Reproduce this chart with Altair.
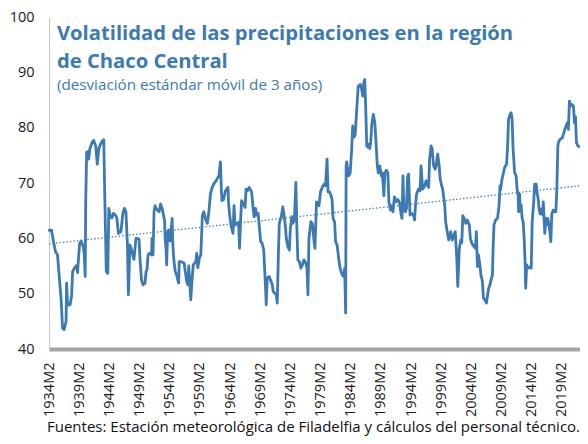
import altair as alt
import pandas as pd

# ---- data ----
periodos = [
    "1934-02", "1934-03", "1934-07", "1934-11", "1935-03", "1935-07", "1935-11", "1936-02", "1936-05", "1936-08",
    "1936-12", "1937-01", "1937-03", "1937-08", "1937-11", "1938-01", "1938-05", "1938-09", "1938-11", "1938-12",
    "1939-03", "1939-06", "1939-10", "1939-12", "1940-02", "1940-03", "1940-05", "1940-07", "1940-09", "1940-11",
    "1941-04", "1941-07", "1941-11", "1942-02", "1942-05", "1942-08", "1942-11", "1943-03", "1943-05", "1943-08",
    "1943-11", "1944-01", "1944-04", "1944-07", "1944-10", "1945-02", "1945-05", "1945-08", "1946-01", "1946-05",
    "1946-08", "1946-11", "1947-02", "1947-04", "1947-07", "1947-10", "1948-03", "1948-07", "1949-01", "1949-03",
    "1949-06", "1949-09", "1950-01", "1950-03", "1950-05", "1950-07", "1950-10", "1951-02", "1951-03", "1951-05",
    "1951-07", "1951-09", "1951-11", "1952-05", "1952-08", "1952-11", "1953-04", "1953-05", "1953-07", "1953-08",
    "1953-10", "1953-12", "1954-03", "1954-05", "1954-07", "1954-08", "1954-10", "1955-01", "1955-04", "1955-06",
    "1955-08", "1955-09", "1955-12", "1956-07", "1956-09", "1956-12", "1957-02", "1957-04", "1957-06", "1957-08",
    "1957-10", "1958-01", "1958-06", "1958-08", "1958-10", "1959-01", "1959-04", "1959-07", "1959-10", "1960-01",
    "1960-05", "1960-08", "1960-11", "1961-03", "1961-06", "1961-09", "1961-12", "1962-04", "1962-07", "1962-09",
    "1962-10", "1963-01", "1963-05", "1963-10", "1963-11", "1964-01", "1964-04", "1964-08", "1964-10", "1964-12",
    "1965-07", "1965-09", "1965-11", "1966-01", "1966-05", "1966-08", "1966-10", "1967-01", "1967-04", "1967-09",
    "1967-12", "1968-02", "1968-05", "1968-07", "1968-10", "1968-12", "1969-03", "1969-06", "1969-09", "1969-11",
    "1970-01", "1970-02", "1970-04", "1970-08", "1971-02", "1971-04", "1971-07", "1971-10", "1971-12", "1972-02",
    "1972-04", "1972-08", "1972-11", "1973-01", "1973-04", "1973-06", "1973-09", "1973-12", "1974-02", "1974-05",
    "1974-07", "1974-10", "1975-01", "1975-03", "1975-05", "1975-08", "1975-11", "1976-02", "1976-05", "1976-09",
    "1976-11", "1977-01", "1977-03", "1977-07", "1977-10", "1978-01", "1978-03", "1978-06", "1978-11", "1979-02",
    "1979-06", "1979-09", "1979-12", "1980-03", "1980-05", "1980-08", "1980-11", "1981-01", "1981-03", "1981-06",
    "1981-08", "1981-11", "1982-02", "1982-05", "1982-09", "1982-12", "1983-02", "1983-04", "1983-05", "1983-06",
    "1983-10", "1984-01", "1984-04", "1984-06", "1984-09", "1984-11", "1985-02", "1985-05", "1985-09", "1985-12",
    "1986-02", "1986-04", "1986-06", "1986-08", "1986-10", "1986-12", "1987-02", "1987-04", "1987-06", "1987-08",
    "1987-11", "1988-02", "1988-04", "1988-07", "1988-09", "1988-12", "1989-03", "1989-05", "1989-08", "1989-10",
    "1990-01", "1990-04", "1990-06", "1990-09", "1990-11", "1991-02", "1991-05", "1991-09", "1991-12", "1992-03",
    "1992-06", "1992-08", "1992-10", "1992-12", "1993-03", "1993-05", "1993-07", "1993-09", "1993-12", "1994-03",
    "1994-07", "1994-09", "1994-11", "1995-01", "1995-05", "1995-08", "1995-10", "1996-01", "1996-04", "1996-08",
    "1996-11", "1997-01", "1997-03", "1997-06", "1997-08", "1997-11", "1998-02", "1998-04", "1998-07", "1998-10",
    "1998-12", "1999-03", "1999-05", "1999-07", "1999-09", "1999-11", "2000-02", "2000-05", "2000-09", "2000-12",
    "2001-03", "2001-06", "2001-09", "2001-11", "2002-02", "2002-05", "2002-07", "2002-09", "2002-12", "2003-03",
    "2003-06", "2003-10", "2003-12", "2004-03", "2004-07", "2004-10", "2004-12", "2005-02", "2005-04", "2005-07",
    "2005-09", "2005-12", "2006-02", "2006-05", "2006-08", "2006-12", "2007-03", "2007-06", "2007-08", "2007-09",
    "2007-11", "2008-02", "2008-06", "2008-09", "2008-11", "2008-12", "2009-03", "2009-06", "2009-08", "2009-12",
    "2010-02", "2010-04", "2010-07", "2010-09", "2010-11", "2011-01", "2011-04", "2011-07", "2011-09", "2011-11",
    "2011-12", "2012-02", "2012-03", "2012-05", "2012-07", "2012-09", "2012-11", "2013-01", "2013-02", "2013-04",
    "2013-07", "2013-10", "2014-01", "2014-03", "2014-06", "2014-08", "2014-11", "2015-01", "2015-03", "2015-05",
    "2015-07", "2015-10", "2015-12", "2016-01", "2016-04", "2016-06", "2016-08", "2016-10", "2017-01", "2017-04",
    "2017-06", "2017-09", "2017-12", "2018-02", "2018-04", "2018-06", "2018-08", "2018-11", "2019-03", "2019-06",
    "2019-09", "2020-01", "2020-03", "2020-05", "2020-07", "2020-10", "2021-01", "2021-03", "2021-05", "2021-07",
    "2021-10", "2022-02",
]

valores = [
    61.2, 61.5, 61.5, 59.4, 57.6, 57.0, 52.4, 49.2, 43.8, 43.5,
    45.0, 51.9, 48.0, 48.0, 49.6, 54.0, 54.7, 55.1, 53.8, 55.5,
    59.1, 59.5, 58.5, 57.4, 53.1, 66.2, 75.6, 75.6, 74.3, 76.1,
    77.4, 77.7, 76.7, 73.4, 76.1, 76.9, 77.5, 77.8, 67.7, 54.0,
    53.7, 65.4, 63.9, 63.7, 64.5, 64.2, 63.7, 60.9, 61.2, 64.5,
    65.4, 64.8, 58.8, 49.8, 58.8, 58.0, 56.2, 60.0, 59.9, 56.4,
    52.5, 51.6, 51.9, 54.0, 54.3, 57.0, 57.3, 57.0, 60.0, 57.0,
    64.8, 65.9, 65.4, 64.8, 66.2, 65.4, 63.2, 60.0, 57.9, 55.2,
    61.2, 61.5, 59.5, 61.4, 63.6, 59.5, 56.4, 54.0, 53.4, 52.5,
    51.9, 55.8, 55.8, 55.5, 54.0, 52.2, 51.6, 55.0, 52.0, 48.9,
    51.9, 55.2, 55.8, 57.3, 54.7, 56.4, 57.0, 64.1, 64.8, 63.6,
    62.7, 64.8, 68.0, 69.3, 69.9, 70.2, 70.7, 71.3, 73.8, 68.4,
    66.8, 67.0, 68.6, 69.2, 66.6, 64.4, 62.4, 60.9, 65.9, 62.4,
    62.9, 58.2, 63.1, 66.8, 66.2, 65.6, 68.9, 68.6, 69.2, 68.4,
    65.4, 63.9, 65.4, 64.2, 64.5, 62.4, 59.4, 59.1, 57.9, 54.3,
    50.4, 48.0, 52.8, 53.1, 51.6, 50.4, 50.1, 49.8, 48.3, 56.4,
    62.7, 63.9, 65.7, 64.5, 62.4, 60.0, 58.5, 57.9, 61.8, 63.9,
    62.7, 63.3, 70.1, 62.0, 56.1, 55.8, 54.6, 55.2, 56.1, 55.5,
    54.6, 49.8, 60.0, 63.0, 62.6, 59.5, 58.2, 66.6, 65.9, 68.4,
    69.3, 69.8, 69.5, 74.3, 68.4, 68.4, 67.7, 67.0, 63.6, 63.0,
    59.4, 58.8, 56.4, 54.6, 53.4, 53.1, 54.6, 46.5, 73.1, 73.8,
    71.3, 71.8, 76.1, 80.3, 78.3, 78.8, 83.3, 87.5, 87.8, 86.9,
    85.7, 88.1, 88.7, 83.3, 76.7, 76.5, 77.0, 76.2, 77.5, 80.6,
    82.4, 80.9, 77.9, 73.1, 71.8, 73.1, 71.3, 71.8, 67.7, 71.8,
    72.3, 71.8, 66.6, 65.1, 65.9, 64.8, 67.5, 66.6, 67.0, 66.5,
    64.5, 63.6, 71.3, 65.0, 64.8, 65.4, 71.0, 71.6, 64.2, 64.5,
    64.2, 63.3, 66.0, 68.0, 68.9, 68.6, 73.1, 68.9, 69.2, 70.4,
    69.5, 69.2, 74.3, 76.7, 76.1, 73.1, 72.5, 73.1, 75.2, 73.1,
    70.7, 69.5, 68.9, 67.4, 66.0, 62.9, 61.2, 59.7, 61.2, 59.7,
    60.5, 61.2, 56.4, 51.3, 58.2, 59.7, 59.2, 64.1, 63.6, 62.7,
    63.3, 62.4, 60.0, 59.1, 58.5, 58.2, 61.2, 54.9, 57.0, 55.2,
    53.4, 52.2, 49.2, 48.9, 48.3, 50.8, 51.6, 52.8, 53.4, 57.6,
    62.4, 63.3, 63.6, 65.9, 69.5, 68.8, 70.7, 71.9, 72.8, 73.4,
    76.7, 81.5, 82.4, 82.7, 81.5, 76.1, 71.9, 71.3, 68.9, 67.7,
    64.8, 68.0, 65.0, 66.0, 63.6, 63.0, 60.0, 55.2, 51.0, 55.2,
    54.6, 54.8, 54.6, 63.0, 66.6, 69.8, 69.8, 68.0, 67.1, 65.1,
    64.4, 65.3, 64.2, 66.6, 60.9, 63.6, 62.4, 63.6, 62.1, 59.4,
    64.4, 65.1, 64.8, 64.8, 68.9, 76.7, 77.6, 77.9, 78.2, 79.1,
    80.0, 80.9, 79.7, 84.8, 83.9, 84.2, 83.9, 80.9, 82.0, 77.3,
    76.7, 76.5,
]

# linear trend (dotted line), start and end values
tendencia_periodos = ["1934-02", "2022-02"]
tendencia_valores = [59.0, 69.5]

anios_etiqueta = list(range(1934, 2020, 5))   # labels 1934M2 ... 2019M2
y_ticks = [40, 50, 60, 70, 80, 90, 100]

titulo_1 = "Volatilidad de las precipitaciones en la región"
titulo_2 = "de Chaco Central"
subtitulo = "(desviación estándar móvil de 3 años)"
fuente = "Fuentes: Estación meteorológica de Filadelfia y cálculos del personal técnico."

AZUL = "#3C7AB3"
FONT = "Open Sans"

df = pd.DataFrame({"periodo": periodos, "valor": valores})
dft = pd.DataFrame({"periodo": tendencia_periodos, "valor": tendencia_valores})

x_scale = alt.Scale(
    type="utc",
    domain=[alt.DateTime(year=1934, month=2, date=1, utc=True),
            alt.DateTime(year=2022, month=2, date=1, utc=True)],
)
y_scale = alt.Scale(domain=[40, 100], nice=False)

x_axis = alt.Axis(
    values=[alt.DateTime(year=a, month=2, date=1, utc=True) for a in anios_etiqueta],
    labelExpr="utcFormat(datum.value, '%Y') + 'M2'",
    labelAngle=270, labelFontSize=14.5, labelColor="#1a1a1a", labelFont=FONT,
    labelPadding=13, ticks=False, grid=False, title=None,
    domainColor="#A6A6A6", domainWidth=4, labelOverlap=False, labelBound=False,
    labelFlush=False,
)
y_axis = alt.Axis(
    values=y_ticks, labelFontSize=14.5, labelColor="#1a1a1a", labelFont=FONT,
    labelPadding=15, ticks=False, grid=False, title=None,
    domainColor="#C8C8C8", domainWidth=1,
)

linea = alt.Chart(df).mark_line(color=AZUL, strokeWidth=2.8, strokeJoin="round").encode(
    x=alt.X("periodo:T", scale=x_scale, axis=x_axis),
    y=alt.Y("valor:Q", scale=y_scale, axis=y_axis),
)

tendencia = alt.Chart(dft).mark_line(color="#4A80C2", strokeWidth=1.3, strokeDash=[1.5, 2]).encode(
    x=alt.X("periodo:T", scale=x_scale, axis=x_axis),
    y=alt.Y("valor:Q", scale=y_scale, axis=y_axis),
)


def texto(t, x, y, size, weight="normal", color=AZUL):
    return alt.Chart(pd.DataFrame({"t": [t]})).mark_text(
        align="left", baseline="alphabetic", fontSize=size, fontWeight=weight,
        color=color, font=FONT,
    ).encode(text="t:N", x=alt.value(x), y=alt.value(y))


chart = alt.layer(
    linea,
    tendencia,
    texto(titulo_1, 8, 22.5, 20.2, "bold"),
    texto(titulo_2, 8, 51.3, 20.2, "bold"),
    texto(subtitulo, 8, 73, 15.2),
    texto(fuente, -2, 415, 15.0, color="#111111"),
).properties(
    width=531, height=332,
    autosize=alt.AutoSizeParams(type="none"),
    padding={"left": 41, "top": 9, "right": 0, "bottom": 87},
).configure_view(stroke=None)

chart.save("out.html", embed_options={"renderer": "svg", "actions": False})
